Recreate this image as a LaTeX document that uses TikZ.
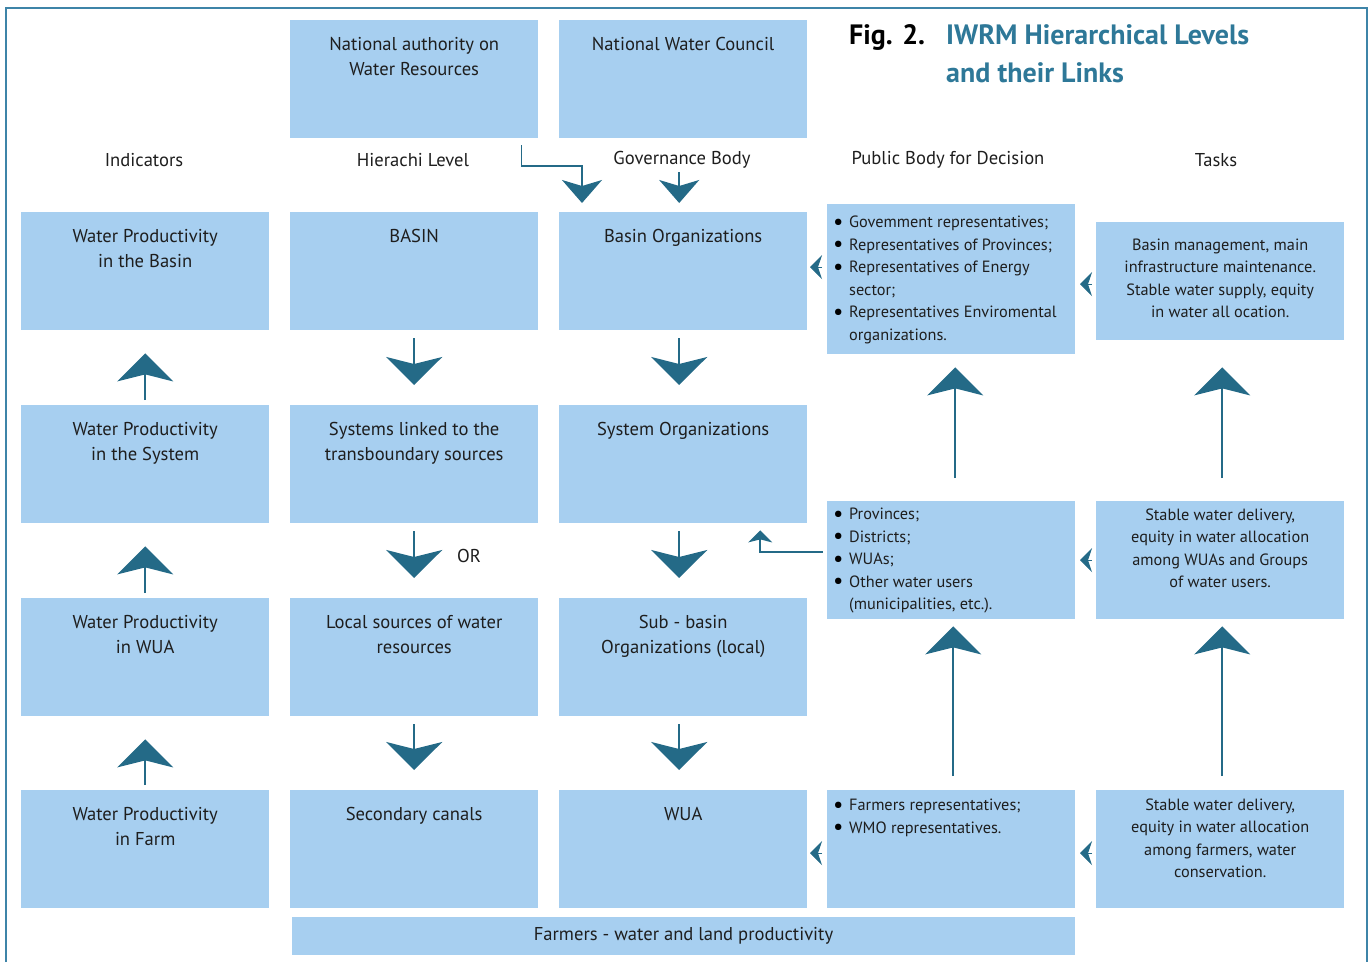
\documentclass[tikz,border=0pt]{standalone}
\usepackage{fontspec}
\setmainfont{PT Sans}
\usetikzlibrary{arrows.meta}

\definecolor{boxblue}{RGB}{167,207,240}
\definecolor{arrowteal}{RGB}{36,106,135}
\definecolor{titleteal}{RGB}{46,120,152}
\definecolor{framecol}{RGB}{62,132,168}
\definecolor{inktext}{RGB}{30,30,30}

\newcommand{\cellfont}{\fontsize{18.6}{25}\selectfont}
\newcommand{\listfont}{\fontsize{16.3}{22.5}\selectfont}
\newcommand{\cell}[3][118pt]{\parbox[t][#1][t]{248pt}{\centering\rule{0pt}{#2}#3}}
\newcommand{\plist}[3]{\parbox[t][#1][t]{248pt}{\raggedright\vspace*{#2}#3}}
\newcommand{\dotmark}{\raisebox{-1.2pt}{\color{black}\fontsize{23}{23}\selectfont\textbullet}}
\newcommand{\itm}[1]{\par\hangindent=22pt\hangafter=1\noindent\hspace*{6pt}\makebox[16pt][l]{\dotmark}\strut#1}

\tikzset{
  blk/.style={fill=boxblue, anchor=north west, inner sep=0pt, minimum width=248pt,
    minimum height=118pt, text=inktext, font=\cellfont},
  head/.style={text=inktext, font=\cellfont},
  bigarr/.style={draw=arrowteal, line width=1.6pt, -{Stealth[length=28pt, width=56pt, inset=7pt]}},
  midarr/.style={draw=arrowteal, line width=1.6pt, -{Stealth[length=23pt, width=40pt, inset=6pt]}},
  smallarr/.style={draw=arrowteal, line width=1.6pt, -{Stealth[length=12pt, width=24pt, inset=3pt]}},
  chev/.style={draw=arrowteal, line width=1pt, -{Stealth[length=12pt, width=24pt, inset=4pt]}}
}

\begin{document}
\begin{tikzpicture}[x=1pt, y=1pt]
  \useasboundingbox (0,0) rectangle (1369,-962);
  \draw[framecol, line width=2pt] (6,-962) -- (6,-8) -- (1367,-8) -- (1367,-962);

  % title
  \node[anchor=base west, inner sep=0pt, font=\fontsize{28}{38}\selectfont\bfseries] (figno) at (849,-44) {Fig. 2.};
  \node[anchor=north west, inner sep=0pt, align=left, text=titleteal,
    font=\fontsize{28}{38}\selectfont\bfseries] (figtitle) at (946,-24) {IWRM Hierarchical Levels\\and their Links};

  % national level
  \node[blk] (natauth) at (290,-20) {\cell{30pt}{National authority on\\Water Resources}};
  \node[blk] (natcouncil) at (559,-20) {\cell{30pt}{National Water Council}};

  % column headers
  \node[head] (hind) at (144,-160) {Indicators};
  \node[head] (hlev) at (413,-160) {Hierachi Level};
  \node[head] (hgov) at (682,-160) {Governance Body};
  \node[head] (hpub) at (948,-160) {Public Body for Decision};
  \node[head] (htask) at (1216,-160) {Tasks};

  % indicators
  \node[blk] (wpbasin) at (21,-212) {\cell{30pt}{Water Productivity\\in the Basin}};
  \node[blk] (wpsys) at (21,-405) {\cell{30pt}{Water Productivity\\in the System}};
  \node[blk] (wpwua) at (21,-598) {\cell{30pt}{Water Productivity\\in WUA}};
  \node[blk] (wpfarm) at (21,-790) {\cell{30pt}{Water Productivity\\in Farm}};

  % hierarchy levels
  \node[blk] (basin) at (290,-212) {\cell{30pt}{BASIN}};
  \node[blk] (syslink) at (290,-405) {\cell{30pt}{Systems linked to the\\transboundary sources}};
  \node[blk] (local) at (290,-598) {\cell{30pt}{Local sources of water\\resources}};
  \node[blk] (canals) at (290,-790) {\cell{30pt}{Secondary canals}};

  % governance bodies
  \node[blk] (basinorg) at (559,-212) {\cell{30pt}{Basin Organizations}};
  \node[blk] (sysorg) at (559,-405) {\cell{30pt}{System Organizations}};
  \node[blk] (suborg) at (559,-598) {\cell{30pt}{Sub - basin\\Organizations (local)}};
  \node[blk] (wua) at (559,-790) {\cell{30pt}{WUA}};

  % public bodies
  \node[blk, minimum height=150pt, font=\listfont] (pbbasin) at (827,-204) {\plist{150pt}{8pt}{%
    \itm{Govemment representatives;}\itm{Representatives of Provinces;}%
    \itm{Representatives of Energy\newline sector;}\itm{Representatives Enviromental\newline organizations.}}};
  \node[blk, font=\listfont] (pbsys) at (827,-501) {\plist{118pt}{3pt}{%
    \itm{Provinces;}\itm{Districts;}\itm{WUAs;}\itm{Other water users\newline (municipalities, etc.).}}};
  \node[blk, font=\listfont] (pbfarm) at (827,-790) {\plist{118pt}{5pt}{%
    \itm{Farmers representatives;}\itm{WMO representatives.}}};

  % tasks
  \node[blk, font=\listfont] (taskbasin) at (1096,-222) {\cell{28pt}{Basin management, main\\infrastructure maintenance.\\Stable water supply, equity\\in water all ocation.}};
  \node[blk, font=\listfont] (tasksys) at (1096,-501) {\cell{19pt}{Stable water delivery,\\equity in water allocation\\among WUAs and Groups\\of water users.}};
  \node[blk, font=\listfont] (taskfarm) at (1096,-790) {\cell{20pt}{Stable water delivery,\\equity in water allocation\\among farmers, water\\conservation.}};

  \node[fill=boxblue, minimum width=783pt, minimum height=38pt, inner sep=0pt, text=inktext, font=\cellfont]
    (farmers) at (683.5,-936) {Farmers - water and land productivity};
  \node[head] (ortext) at (469,-556) {OR};

  % links
  \draw[midarr, shorten <=7pt, shorten >=9pt] ([xshift=-17pt]natauth.south east)
    |- ([xshift=23pt, yshift=46pt]basinorg.north west) -- ([xshift=23pt]basinorg.north west);
  \draw[midarr, shorten <=34pt, shorten >=9pt] ([xshift=-4pt]natcouncil.south) -- ([xshift=-4pt]basinorg.north);
  \foreach \a/\b in {basin/syslink, syslink/local, local/canals}
    \draw[bigarr, shorten <=8pt, shorten >=20pt] (\a.south) -- (\b.north);
  \foreach \a/\b in {basinorg/sysorg, sysorg/suborg, suborg/wua}
    \draw[bigarr, shorten <=8pt, shorten >=20pt] ([xshift=-4pt]\a.south) -- ([xshift=-4pt]\b.north);
  \foreach \a/\b in {wpsys/wpbasin, wpwua/wpsys, wpfarm/wpwua}
    \draw[bigarr, shorten <=5pt, shorten >=23pt] (\a.north) -- (\b.south);
  \draw[bigarr, shorten <=23pt, shorten >=13pt] ([xshift=4pt]pbsys.north) -- ([xshift=4pt]pbbasin.south);
  \draw[bigarr, shorten <=14pt, shorten >=7pt] ([xshift=2pt]pbfarm.north) -- ([xshift=2pt]pbsys.south);
  \draw[bigarr, shorten <=23pt, shorten >=27pt] ([xshift=2pt]tasksys.north) -- ([xshift=2pt]taskbasin.south);
  \draw[bigarr, shorten <=14pt, shorten >=7pt] ([xshift=2pt]taskfarm.north) -- ([xshift=2pt]tasksys.south);
  \draw[smallarr, shorten >=7pt] ([xshift=-4pt, yshift=8pt]pbsys.west) -| ([xshift=77pt]sysorg.south);
  \draw[chev] ([xshift=-5pt, yshift=12pt]pbbasin.west) -- ([xshift=-17pt, yshift=12pt]pbbasin.west);
  \draw[chev] ([xshift=-4pt, yshift=-3pt]taskbasin.west) -- ([xshift=-16pt, yshift=-3pt]taskbasin.west);
  \draw[chev] ([xshift=-4pt]tasksys.west) -- ([xshift=-16pt]tasksys.west);
  \draw[chev] ([xshift=-5pt, yshift=-4pt]pbfarm.west) -- ([xshift=-17pt, yshift=-4pt]pbfarm.west);
  \draw[chev] ([xshift=-4pt, yshift=-4pt]taskfarm.west) -- ([xshift=-16pt, yshift=-4pt]taskfarm.west);
\end{tikzpicture}
\end{document}
